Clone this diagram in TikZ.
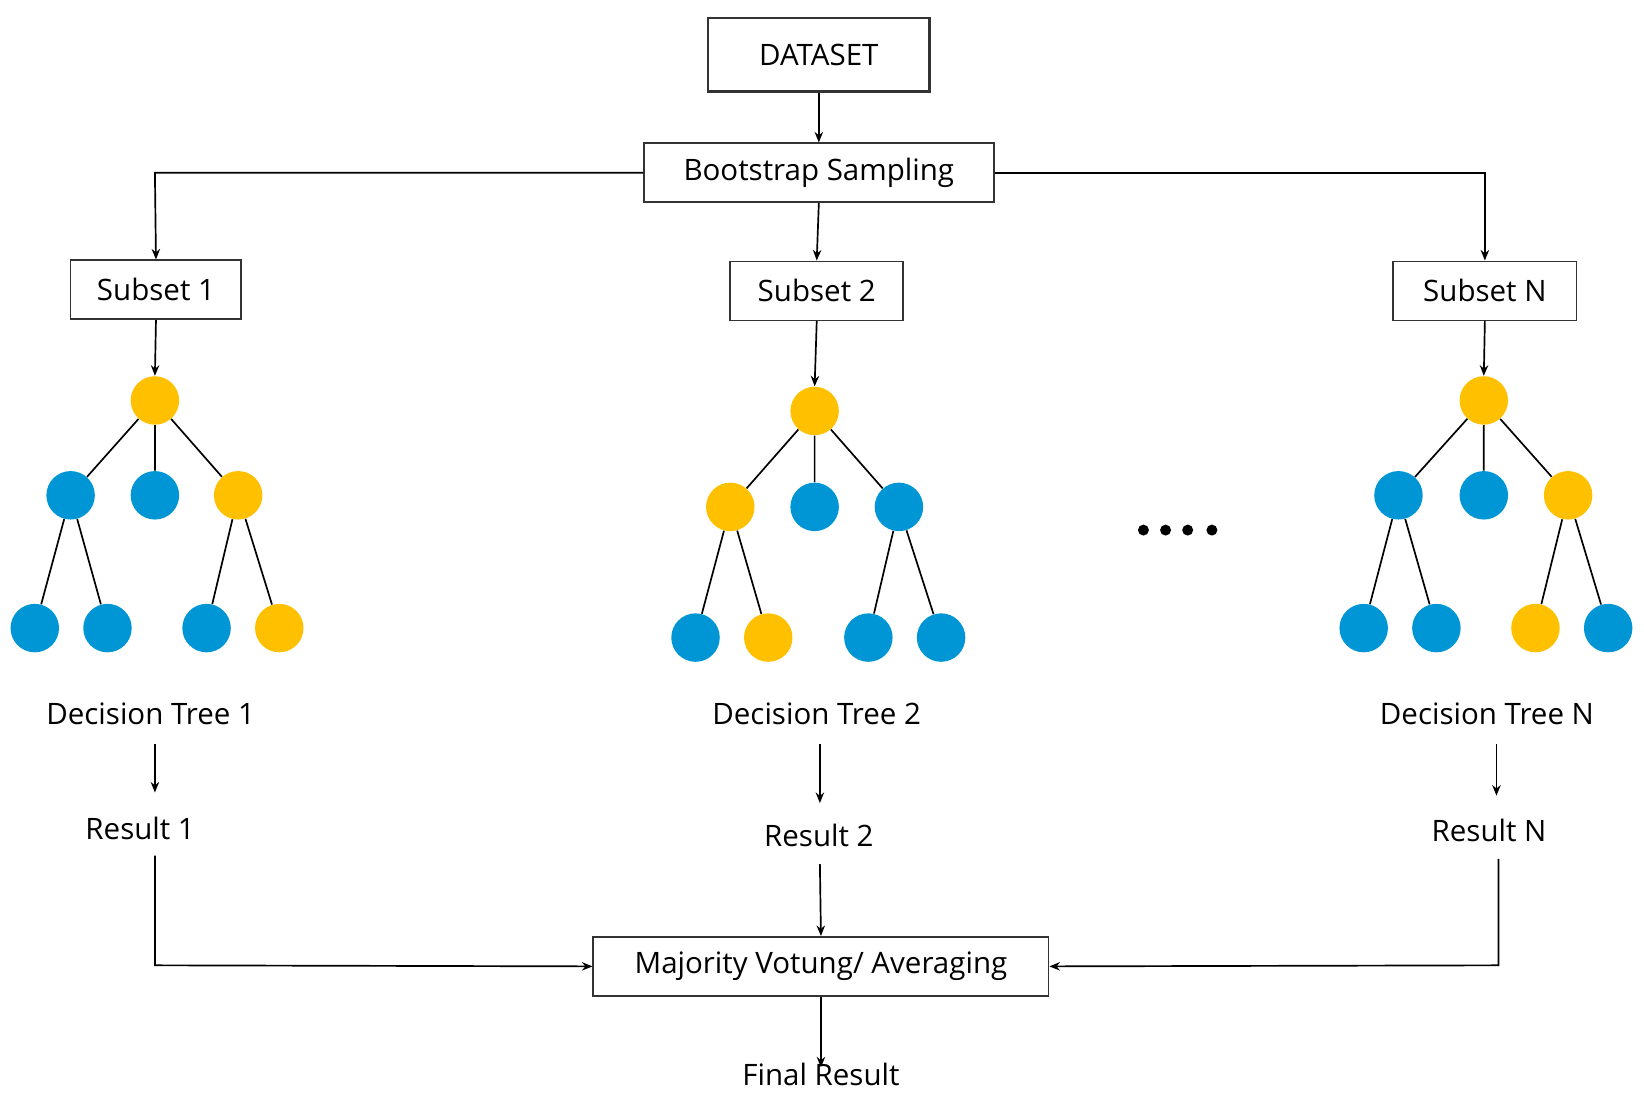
\documentclass[tikz,border=0pt]{standalone}
\usepackage{fontspec}
\setmainfont{Open Sans}
\usetikzlibrary{arrows.meta}
\definecolor{ty}{RGB}{255,192,0}
\definecolor{tb}{RGB}{0,150,214}
\begin{document}
\begin{tikzpicture}[x=0.5pt,y=-0.5pt,
  box/.style={draw=black!80,line width=0.8pt,inner sep=0pt,minimum height=28pt,font=\fontsize{14}{16}\selectfont},
  lbl/.style={inner sep=0pt,font=\fontsize{14}{16}\selectfont},
  arr/.style={-{Stealth[length=5pt,width=4pt]},line width=0.8pt},
  ln/.style={line width=0.8pt},
  yn/.style={circle,fill=ty,minimum size=23pt,inner sep=0pt},
  bn/.style={circle,fill=tb,minimum size=23pt,inner sep=0pt}]
\useasboundingbox (0,0) rectangle (1560,1043);
\node[box,line width=1.2pt,minimum width=105pt,minimum height=35pt] (ds) at (777,52) {DATASET};
\node[box,minimum width=166pt] (bs) at (777,164) {Bootstrap Sampling};
\node[box,minimum width=81pt] (s1) at (148,275) {Subset 1};
\node[box,minimum width=82pt] (s2) at (775,276) {Subset 2};
\node[box,minimum width=87pt] (sn) at (1409,276) {Subset N};
\draw[arr] (ds) -- (bs);
\coordinate (c1) at (147,164); \coordinate (cn) at (1409,164);
\draw[arr] (bs.west) -- (c1) -- (s1.north);
\draw[arr] (bs.east) -- (cn) -- (sn.north);
\draw[arr] (bs.south) -- (s2.north);
% tree 1
\node[yn] (a0) at (147,380) {};
\node[bn] (a1) at (67,470) {}; \node[bn] (a2) at (147,470) {}; \node[yn] (a3) at (226,470) {};
\node[bn] (a4) at (33,596) {}; \node[bn] (a5) at (102,596) {}; \node[bn] (a6) at (196,596) {}; \node[yn] (a7) at (265,596) {};
\draw[ln] (a0)--(a1) (a0)--(a2) (a0)--(a3) (a1)--(a4) (a1)--(a5) (a3)--(a6) (a3)--(a7);
% tree 2
\node[yn] (b0) at (773,390) {};
\node[yn] (b1) at (693,481) {}; \node[bn] (b2) at (773,481) {}; \node[bn] (b3) at (853,481) {};
\node[bn] (b4) at (660,605) {}; \node[yn] (b5) at (729,605) {}; \node[bn] (b6) at (824,605) {}; \node[bn] (b7) at (893,605) {};
\draw[ln] (b0)--(b1) (b0)--(b2) (b0)--(b3) (b1)--(b4) (b1)--(b5) (b3)--(b6) (b3)--(b7);
% tree N
\node[yn] (n0) at (1408,380) {};
\node[bn] (n1) at (1327,470) {}; \node[bn] (n2) at (1408,470) {}; \node[yn] (n3) at (1488,470) {};
\node[bn] (n4) at (1294,596) {}; \node[bn] (n5) at (1363,596) {}; \node[yn] (n6) at (1457,596) {}; \node[bn] (n7) at (1526,596) {};
\draw[ln] (n0)--(n1) (n0)--(n2) (n0)--(n3) (n1)--(n4) (n1)--(n5) (n3)--(n6) (n3)--(n7);
\draw[arr] (s1.south) -- (a0.north);
\draw[arr] (s2.south) -- (b0.north);
\draw[arr] (sn.south) -- (n0.north);
\foreach \x in {1085,1106,1127,1150} \fill (\x,503) circle (2.6pt);
\node[lbl] (d1) at (143,677) {Decision Tree 1};
\node[lbl] (d2) at (775,677) {Decision Tree 2};
\node[lbl] (dn) at (1411,677) {Decision Tree N};
\node[lbl] (r1) at (133,786) {Result 1};
\node[lbl] (r2) at (777,793) {Result 2};
\node[lbl] (rn) at (1413,788) {Result N};
\coordinate (t1) at (147,706); \coordinate (u1) at (147,752);
\coordinate (t2) at (778,706); \coordinate (u2) at (778,762);
\coordinate (tn) at (1420,706); \coordinate (un) at (1420,755);
\draw[arr] (t1) -- (u1); \draw[arr] (t2) -- (u2); \draw[arr] (tn) -- (un);
\node[box,minimum width=216pt] (mv) at (779,917) {Majority Votung/ Averaging};
\node[lbl] (fr) at (779,1020) {Final Result};
\coordinate (v1) at (147,812); \coordinate (w1) at (147,916);
\coordinate (vn) at (1422,815); \coordinate (wn) at (1422,916);
\coordinate (v2) at (778,820);
\draw[arr] (v1) -- (w1) -- (mv.west);
\draw[arr] (vn) -- (wn) -- (mv.east);
\draw[arr] (v2) -- (mv.north);
\draw[arr] (mv.south) -- ([yshift=-2pt]fr.north);
\end{tikzpicture}
\end{document}
